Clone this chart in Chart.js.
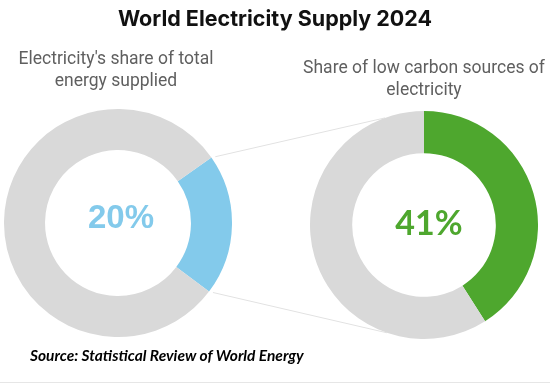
<!DOCTYPE html>
<html>
<head>
<meta charset="utf-8">
<script src="https://cdn.jsdelivr.net/npm/chart.js@4.4.1/dist/chart.umd.min.js"></script>
<style>
  body { margin: 0; width: 550px; height: 390px; background: #fff; position: relative; overflow: hidden; }
  .txt { position: absolute; text-align: center; white-space: nowrap; }
  #title { left: 0; width: 550px; top: 5px; font: bold 21.5px Inter, sans-serif; color: #111; }
  .sub { font: 17.5px Roboto, sans-serif; color: #5f5f5f; line-height: 22px; }
  #subLeft { left: 0; width: 232px; top: 47px; }
  #subRight { left: 299px; width: 250px; top: 56px; }
  #source { left: 30px; top: 346px; font: italic bold 15.5px Lato, sans-serif; color: #000; }
  #rule { position: absolute; left: 0; top: 382px; width: 550px; height: 1px; background: #e6e6e6; }
  canvas.pie { position: absolute; }
</style>
</head>
<body>
<canvas id="links" width="550" height="390" style="position:absolute;left:0;top:0"></canvas>
<div class="txt" id="title">World Electricity Supply 2024</div>
<div class="txt sub" id="subLeft">Electricity's share of total<br>energy supplied</div>
<div class="txt sub" id="subRight">Share of low carbon sources of<br>electricity</div>
<canvas class="pie" id="leftChart" width="228" height="228" style="left:4px;top:109px"></canvas>
<canvas class="pie" id="rightChart" width="228" height="228" style="left:310px;top:111px"></canvas>
<div class="txt" id="source">Source: Statistical Review of World Energy</div>
<div id="rule"></div>
<script>
// values (percent)
const energyLabels = ["Electricity", "Other energy"];
const energyShare = [20, 80];
const sourceLabels = ["Low carbon", "Other sources"];
const sourceShare = [41, 59];

const grey = "#d9d9d9";
const blue = "#83caeb";
const green = "#4ea72e";

// big percentage in the hole of each doughnut
const centreText = {
  id: "centreText",
  afterDraw(chart, args, opts) {
    const arc = chart.getDatasetMeta(0).data[0];
    const ctx = chart.ctx;
    ctx.save();
    ctx.font = opts.font;
    ctx.fillStyle = opts.color;
    ctx.textAlign = "center";
    ctx.textBaseline = "middle";
    ctx.fillText(chart.data.datasets[0].data[0] + "%", arc.x + opts.dx, arc.y + opts.dy);
    ctx.restore();
  }
};

function makeDoughnut(id, labels, values, colour, rotation, cutout, font, dx, dy) {
  return new Chart(document.getElementById(id), {
    type: "doughnut",
    data: {
      labels,
      datasets: [{ data: values, backgroundColor: [colour, grey], borderWidth: 0, hoverOffset: 0 }]
    },
    options: {
      responsive: false,
      animation: false,
      rotation,
      cutout,
      events: [],
      plugins: {
        legend: { display: false },
        tooltip: { enabled: false },
        centreText: { font, color: colour, dx, dy }
      }
    },
    plugins: [centreText]
  });
}

const left = makeDoughnut("leftChart", energyLabels, energyShare, blue, 55, "64%", "bold 33px 'Liberation Sans'", 3, -4);
const right = makeDoughnut("rightChart", sourceLabels, sourceShare, green, 0, "63%", "bold 34px Lato", 5, -1);

// thin connector lines from the electricity slice to the right doughnut
function drawLinks() {
  const lc = document.getElementById("leftChart"), rc = document.getElementById("rightChart");
  const a = left.getDatasetMeta(0).data[0];
  const b = right.getDatasetMeta(0).data[0];
  const lx = lc.offsetLeft, ly = lc.offsetTop, rx = rc.offsetLeft, ry = rc.offsetTop;
  const ctx = document.getElementById("links").getContext("2d");
  const pt = (arc, ox, oy, ang, r) => [ox + arc.x + r * Math.cos(ang), oy + arc.y + r * Math.sin(ang)];
  const deg = d => (d - 90) * Math.PI / 180;
  const pairs = [
    [pt(a, lx, ly, a.startAngle, a.outerRadius), pt(b, rx, ry, deg(340), b.outerRadius)],
    [pt(a, lx, ly, a.endAngle, a.outerRadius), pt(b, rx, ry, deg(199), b.outerRadius)]
  ];
  ctx.strokeStyle = "#e2e2e2";
  ctx.lineWidth = 1;
  pairs.forEach(([p, q]) => {
    const t = Math.atan2(q[1] - p[1], q[0] - p[0]);
    ctx.beginPath();
    ctx.moveTo(p[0] + 4 * Math.cos(t), p[1] + 4 * Math.sin(t));
    ctx.lineTo(q[0], q[1]);
    ctx.stroke();
  });
}
drawLinks();
</script>
</body>
</html>
